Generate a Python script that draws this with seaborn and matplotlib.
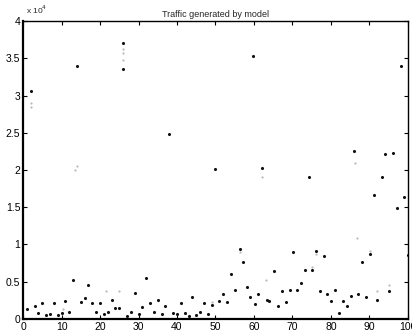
import numpy as np
import pandas as pd
import seaborn as sns
import matplotlib
matplotlib.use("Agg")
import matplotlib.pyplot as plt

# dark points: generated traffic per step (units of 1e4)
step = [1, 2, 3, 4, 5, 6, 7, 8, 9, 10, 11, 12, 13, 14, 15, 16, 17, 18, 19, 20,
        21, 22, 23, 24, 25, 26, 26, 27, 28, 29, 30, 31, 32, 33, 34, 35, 36, 37, 38, 39,
        40, 41, 42, 43, 44, 45, 46, 47, 48, 49, 50, 51, 52, 53, 54, 55, 56.4, 57.2, 58.2, 59,
        59.8, 60.3, 61, 62.2, 63.3, 64, 65.2, 66.2, 67.3, 68.3, 69.3, 70.1, 71.2, 72.2, 73.2, 74.4, 75.2, 76.2, 77.1, 78.2,
        79.1, 80.1, 81.1, 82.1, 83.1, 84.2, 85.2, 86.1, 87.1, 88.1, 89.2, 90.2, 91.2, 92.1, 93.2, 94.1, 95.1, 96.1, 97.1, 98.2,
        99.0, 100]
traffic = [0.13, 3.06, 0.17, 0.077, 0.22, 0.05, 0.063, 0.22, 0.05, 0.077, 0.24, 0.09, 0.52, 3.39, 0.23, 0.28, 0.45, 0.21, 0.10, 0.22,
           0.063, 0.09, 0.26, 0.15, 0.15, 3.71, 3.35, 0.045, 0.09, 0.35, 0.07, 0.165, 0.55, 0.21, 0.09, 0.26, 0.07, 0.175, 2.49, 0.08,
           0.063, 0.22, 0.08, 0.04, 0.295, 0.054, 0.09, 0.22, 0.07, 0.19, 2.02, 0.24, 0.33, 0.23, 0.60, 0.385, 0.935, 0.76, 0.425, 0.29,
           3.53, 0.20, 0.33, 2.03, 0.26, 0.24, 0.64, 0.18, 0.37, 0.23, 0.39, 0.895, 0.39, 0.48, 0.66, 1.91, 0.66, 0.91, 0.38, 0.845,
           0.33, 0.24, 0.39, 0.085, 0.24, 0.175, 0.31, 2.26, 0.33, 0.77, 0.30, 0.87, 1.66, 0.255, 1.90, 2.21, 0.38, 2.23, 1.49, 3.40,
           1.64, 0.86]

# faint grey points
faint_step = [2, 2, 13.5, 14, 26, 26, 26, 10.3, 21.6, 25, 49, 56.4, 63, 62.2, 75.2, 76.2, 86.2, 86.8, 90.2, 92.1, 95.1]
faint_traffic = [2.90, 2.85, 2.00, 2.05, 3.63, 3.57, 3.48, 0.13, 0.38, 0.38, 0.23, 0.90, 0.52, 1.90, 0.70, 0.87, 2.10, 1.09, 0.91, 0.37, 0.46]

sns.set_style("white")
plt.rcParams['font.family'] = ['Liberation Sans', 'DejaVu Sans']

fig = plt.figure(figsize=(4.12, 3.34), dpi=100)
ax = fig.add_axes([0.056, 0.045, 0.934, 0.892])

df = pd.DataFrame({"step": step, "traffic": traffic})
df_faint = pd.DataFrame({"step": faint_step, "traffic": faint_traffic})

sns.scatterplot(data=df_faint, x="step", y="traffic", ax=ax, color="#b8b8b8",
                s=2.5, marker="o", linewidth=0)
sns.scatterplot(data=df, x="step", y="traffic", ax=ax, color="#111111",
                s=5, marker="o", linewidth=0)

ax.set_xlim(0, 100)
ax.set_ylim(0, 4)
ax.set_xticks(np.arange(0, 101, 10))
ax.set_yticks(np.arange(0, 4.01, 0.5))
ax.set_yticklabels(["0", "0.5", "1", "1.5", "2", "2.5", "3", "3.5", "4"])
ax.set_xlabel("")
ax.set_ylabel("")
ax.tick_params(direction="in", length=3, width=0.8, labelsize=7.5, pad=2,
               top=True, right=True, bottom=True, left=True, colors="black")
for sp in ax.spines.values():
    sp.set_color("black")
    sp.set_linewidth(1.0)
ax.spines["bottom"].set_linewidth(1.6)
ax.spines["left"].set_linewidth(1.6)

ax.set_title("Traffic generated by model", fontsize=6.5, pad=3)
fig.text(0.062, 0.952, r"x 10$^4$", fontsize=6, ha="left", va="bottom")

fig.savefig("out.png", dpi=100)
